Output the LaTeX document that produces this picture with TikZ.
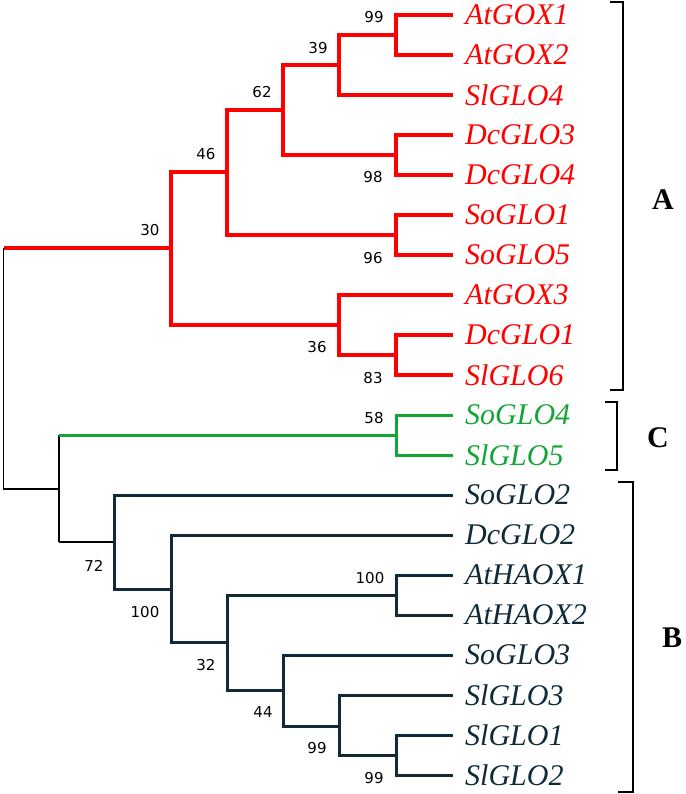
\documentclass[tikz,border=0pt]{standalone}
\usepackage{fontspec}
\setmainfont{Liberation Serif}
\newfontfamily\leaffont{Liberation Serif}
\newfontfamily\bsfont{DejaVu Sans}
\definecolor{cred}{RGB}{255,0,0}
\definecolor{cgreen}{RGB}{20,165,55}
\definecolor{cdark}{RGB}{16,42,56}
\begin{document}
\begin{tikzpicture}[x=1pt,y=-1pt,
  redbr/.style={draw=cred,line width=3.2pt},
  greenbr/.style={draw=cgreen,line width=3pt},
  darkbr/.style={draw=cdark,line width=3pt},
  rootbr/.style={draw=black,line width=1.8pt},
  leaf/.style={anchor=west,inner sep=0pt,font=\leaffont\fontsize{30}{30}\selectfont\itshape},
  boot/.style={inner sep=0pt,font=\bsfont\fontsize{15}{15}\selectfont,text=black},
  grp/.style={inner sep=0pt,font=\fontsize{30}{30}\selectfont\bfseries},
  brk/.style={draw=black,line width=1.8pt}]
\useasboundingbox (0,0) rectangle (685,794);
% leaf tips
\foreach \i/\n in {0/t1,1/t2,2/t3,3/t4,4/t5,5/t6,6/t7,7/t8,8/t9,9/t10,10/t11,11/t12,12/t13,13/t14,14/t15,15/t16,16/t17,17/t18,18/t19,19/t20}
  \coordinate (\n) at (453,{15+40*\i});
% leaf labels
\node[leaf,text=cred] (L1) at (465,15) {AtGOX1};
\node[leaf,text=cred] (L2) at (465,55) {AtGOX2};
\node[leaf,text=cred] (L3) at (465,95) {SlGLO4};
\node[leaf,text=cred] (L4) at (465,135) {DcGLO3};
\node[leaf,text=cred] (L5) at (465,175) {DcGLO4};
\node[leaf,text=cred] (L6) at (465,215) {SoGLO1};
\node[leaf,text=cred] (L7) at (465,255) {SoGLO5};
\node[leaf,text=cred] (L8) at (465,295) {AtGOX3};
\node[leaf,text=cred] (L9) at (465,335) {DcGLO1};
\node[leaf,text=cred] (L10) at (465,375) {SlGLO6};
\node[leaf,text=cgreen] (L11) at (465,415) {SoGLO4};
\node[leaf,text=cgreen] (L12) at (465,455) {SlGLO5};
\node[leaf,text=cdark] (L13) at (465,495) {SoGLO2};
\node[leaf,text=cdark] (L14) at (465,535) {DcGLO2};
\node[leaf,text=cdark] (L15) at (465,575) {AtHAOX1};
\node[leaf,text=cdark] (L16) at (465,615) {AtHAOX2};
\node[leaf,text=cdark] (L17) at (465,655) {SoGLO3};
\node[leaf,text=cdark] (L18) at (465,695) {SlGLO3};
\node[leaf,text=cdark] (L19) at (465,735) {SlGLO1};
\node[leaf,text=cdark] (L20) at (465,775) {SlGLO2};
% internal nodes
\coordinate (g12) at (396,35);
\coordinate (g3) at (339,65);
\coordinate (g4) at (283,110);
\coordinate (d34) at (396,155);
\coordinate (g5) at (227,172);
\coordinate (s15) at (396,235);
\coordinate (ad) at (339,325);
\coordinate (d1s6) at (396,355);
\coordinate (n30) at (171,248);
\coordinate (gC) at (396,435);
\coordinate (nCB) at (59,489);
\coordinate (n72) at (114,542);
\coordinate (n100) at (171,589);
\coordinate (hao) at (396,595);
\coordinate (n32) at (227,642);
\coordinate (n44) at (283,690);
\coordinate (n99) at (339,726);
\coordinate (s12) at (396,755);
\coordinate (rootT) at (3.5,248);
\coordinate (rootB) at (3.5,489);
% root (black)
\draw[rootbr] (rootT) -- (rootB) -- (nCB);
% clade A (red)
\draw[redbr] (t1) -| (g12) |- (t2);
\draw[redbr] (g12) -| (g3) |- (t3);
\draw[redbr] (t4) -| (d34) |- (t5);
\draw[redbr] (g3) -| (g4) |- (d34);
\draw[redbr] (t6) -| (s15) |- (t7);
\draw[redbr] (g4) -| (g5) |- (s15);
\draw[redbr] (t9) -| (d1s6) |- (t10);
\draw[redbr] (t8) -| (ad) |- (d1s6);
\draw[redbr] (g5) -| (n30) |- (ad);
\draw[redbr] (rootT) -- (n30);
% clade C (green)
\draw[rootbr] (nCB |- gC) -- (nCB |- n72);
\draw[rootbr] (nCB |- n72) -- (n72);
\draw[greenbr] (t11) -| (gC) |- (t12);
\draw[greenbr] (nCB |- gC) -- (gC);
% clade B (dark)
\draw[darkbr] (t13) -| (n72) |- (n100);
\draw[darkbr] (t14) -| (n100) |- (n32);
\draw[darkbr] (t15) -| (hao) |- (t16);
\draw[darkbr] (hao) -| (n32) |- (n44);
\draw[darkbr] (t17) -| (n44) |- (n99);
\draw[darkbr] (t18) -| (n99) |- (s12);
\draw[darkbr] (t19) -| (s12) |- (t20);
% bootstrap values
\node[boot] (b1) at (374,17) {99};
\node[boot] (b2) at (318,48) {39};
\node[boot] (b3) at (262,92) {62};
\node[boot] (b4) at (206,154) {46};
\node[boot] (b5) at (150,230) {30};
\node[boot] (b6) at (373,177) {98};
\node[boot] (b7) at (373,258) {96};
\node[boot] (b8) at (317,347) {36};
\node[boot] (b9) at (373,378) {83};
\node[boot] (b10) at (374,418) {58};
\node[boot] (b11) at (94,566) {72};
\node[boot] (b12) at (145,612) {100};
\node[boot] (b13) at (206,665) {32};
\node[boot] (b14) at (263,712) {44};
\node[boot] (b15) at (317,748) {99};
\node[boot] (b16) at (370,578) {100};
\node[boot] (b17) at (374,778) {99};
% brackets
\coordinate (A1) at (610,2);
\coordinate (A2) at (610,390);
\draw[brk] (A1) -- ++(13,0) |- (A2);
\coordinate (C1) at (605,402);
\coordinate (C2) at (605,470);
\draw[brk] (C1) -- ++(12,0) |- (C2);
\coordinate (B1) at (618,482);
\coordinate (B2) at (618,792);
\draw[brk] (B1) -- ++(15,0) |- (B2);
\node[grp] (gA) at (663,200) {A};
\node[grp] (gCl) at (658,438) {C};
\node[grp] (gB) at (672,638) {B};
\end{tikzpicture}
\end{document}
